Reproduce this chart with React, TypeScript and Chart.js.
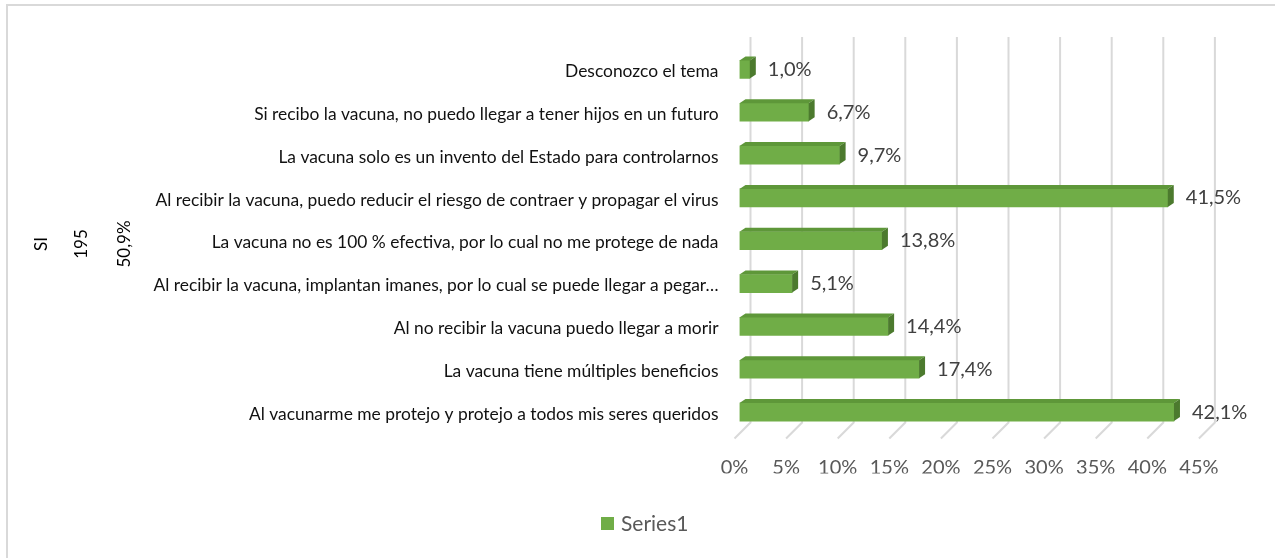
import React, { useEffect, useRef } from "react";
import { Chart, registerables } from "chart.js";

Chart.register(...registerables);

const categories: string[] = [
  "Desconozco el tema",
  "Si recibo la vacuna, no puedo llegar a tener hijos en un futuro",
  "La vacuna solo es un invento del Estado para controlarnos",
  "Al recibir la vacuna, puedo reducir el riesgo de contraer y propagar el virus",
  "La vacuna no es 100 % efectiva, por lo cual no me protege de nada",
  "Al recibir la vacuna, implantan imanes, por lo cual se puede llegar a pegar…",
  "Al no recibir la vacuna puedo llegar a morir",
  "La vacuna tiene múltiples beneficios",
  "Al vacunarme me protejo y protejo a todos mis seres queridos",
];
const series1: number[] = [0.01, 0.067, 0.097, 0.415, 0.138, 0.051, 0.144, 0.174, 0.421];
const seriesName = "Series1";
const sideTexts: string[] = ["SI", "195", "50,9%"];

const FONT = "Lato, 'Open Sans', sans-serif";
const GREEN = "#70AD47";
const GREEN_TOP = "#5E9739";
const GREEN_SIDE = "#4C7A2E";

const fmtPct = (v: number) => (v * 100).toFixed(1).replace(".", ",") + "%";

const chartPlugin = {
  id: "excel3d",
  beforeDraw(chart: any) {
    const ctx = chart.ctx;
    ctx.save();
    ctx.fillStyle = "#ffffff";
    ctx.fillRect(0, 0, chart.width, chart.height);
    ctx.strokeStyle = "#d9d9d9";
    ctx.lineWidth = 2;
    ctx.beginPath();
    ctx.moveTo(7, chart.height);
    ctx.lineTo(7, 5);
    ctx.lineTo(chart.width, 5);
    ctx.stroke();
    ctx.restore();
  },
  beforeDatasetsDraw(chart: any) {
    const ctx = chart.ctx;
    const xs = chart.scales.x;
    const area = chart.chartArea;
    ctx.save();
    ctx.strokeStyle = "#d9d9d9";
    ctx.lineWidth = 2;
    xs.ticks.forEach((t: any) => {
      const px = xs.getPixelForValue(t.value);
      ctx.beginPath();
      ctx.moveTo(px + 11, area.top - 11);
      ctx.lineTo(px + 11, area.bottom - 11);
      ctx.lineTo(px - 5, area.bottom + 5);
      ctx.stroke();
    });
    ctx.restore();
  },
  afterDatasetsDraw(chart: any) {
    const ctx = chart.ctx;
    const meta = chart.getDatasetMeta(0);
    const dx = 6;
    const dy = 4;
    ctx.save();
    meta.data.forEach((bar: any, i: number) => {
      const { x, y, base, height } = bar.getProps(["x", "y", "base", "height"], true);
      const top = y - height / 2;
      const bottom = y + height / 2;
      ctx.fillStyle = GREEN_TOP;
      ctx.beginPath();
      ctx.moveTo(base, top);
      ctx.lineTo(base + dx, top - dy);
      ctx.lineTo(x + dx, top - dy);
      ctx.lineTo(x, top);
      ctx.closePath();
      ctx.fill();
      ctx.fillStyle = GREEN_SIDE;
      ctx.beginPath();
      ctx.moveTo(x, top);
      ctx.lineTo(x + dx, top - dy);
      ctx.lineTo(x + dx, bottom - dy);
      ctx.lineTo(x, bottom);
      ctx.closePath();
      ctx.fill();
      ctx.fillStyle = "#404040";
      ctx.font = `20px ${FONT}`;
      ctx.textAlign = "left";
      ctx.textBaseline = "middle";
      ctx.fillText(fmtPct(series1[i]), x + 18, y);
    });
    ctx.restore();
  },
  afterDraw(chart: any) {
    const ctx = chart.ctx;
    ctx.save();
    const sx = [42, 82, 125];
    ctx.fillStyle = "#000000";
    ctx.font = `17px ${FONT}`;
    ctx.textAlign = "center";
    ctx.textBaseline = "middle";
    sideTexts.forEach((t, i) => {
      ctx.save();
      ctx.translate(sx[i], 244);
      ctx.rotate(-Math.PI / 2);
      ctx.fillText(t, 0, 0);
      ctx.restore();
    });
    ctx.fillStyle = GREEN;
    ctx.fillRect(601, 517, 13, 13);
    ctx.fillStyle = "#595959";
    ctx.font = `21px ${FONT}`;
    ctx.textAlign = "left";
    ctx.textBaseline = "middle";
    ctx.fillText(seriesName, 621, 524);
    ctx.restore();
  },
};

export default function App() {
  const ref = useRef<HTMLCanvasElement | null>(null);
  useEffect(() => {
    if (!ref.current) return;
    const chart = new Chart(ref.current, {
      type: "bar",
      data: {
        labels: categories,
        datasets: [
          {
            label: seriesName,
            data: series1,
            backgroundColor: GREEN,
            barThickness: 18,
          },
        ],
      },
      options: {
        indexAxis: "y",
        animation: false,
        responsive: false,
        maintainAspectRatio: false,
        layout: { padding: { top: 48, right: 71.1, left: 0, bottom: 84.5 } },
        plugins: {
          legend: { display: false },
          tooltip: { enabled: false },
        },
        scales: {
          x: {
            min: 0,
            max: 0.45,
            grid: { display: false, drawTicks: false },
            border: { display: false },
            ticks: {
              stepSize: 0.05,
              callback: (v: any) => Math.round(Number(v) * 100) + "%",
              font: { family: FONT, size: 20 },
              color: "#595959",
              labelOffset: -5,
              padding: 22,
              maxRotation: 0,
              autoSkip: false,
            },
            afterFit: (s: any) => {
              s.height = 40;
            },
          },
          y: {
            grid: { display: false, drawTicks: false },
            border: { display: false },
            ticks: {
              font: { family: FONT, size: 17.4 },
              color: "#111111",
              padding: 21,
              labelOffset: 2,
              autoSkip: false,
            },
            afterFit: (s: any) => {
              s.width = 739.5;
            },
          },
        },
      },
      plugins: [chartPlugin],
    } as any);
    return () => chart.destroy();
  }, []);
  return (
    <div style={{ position: "fixed", left: 0, top: 0, width: 1275, height: 558, background: "#fff" }}>
      <canvas ref={ref} width={1275} height={558} style={{ width: 1275, height: 558, display: "block" }} />
    </div>
  );
}
